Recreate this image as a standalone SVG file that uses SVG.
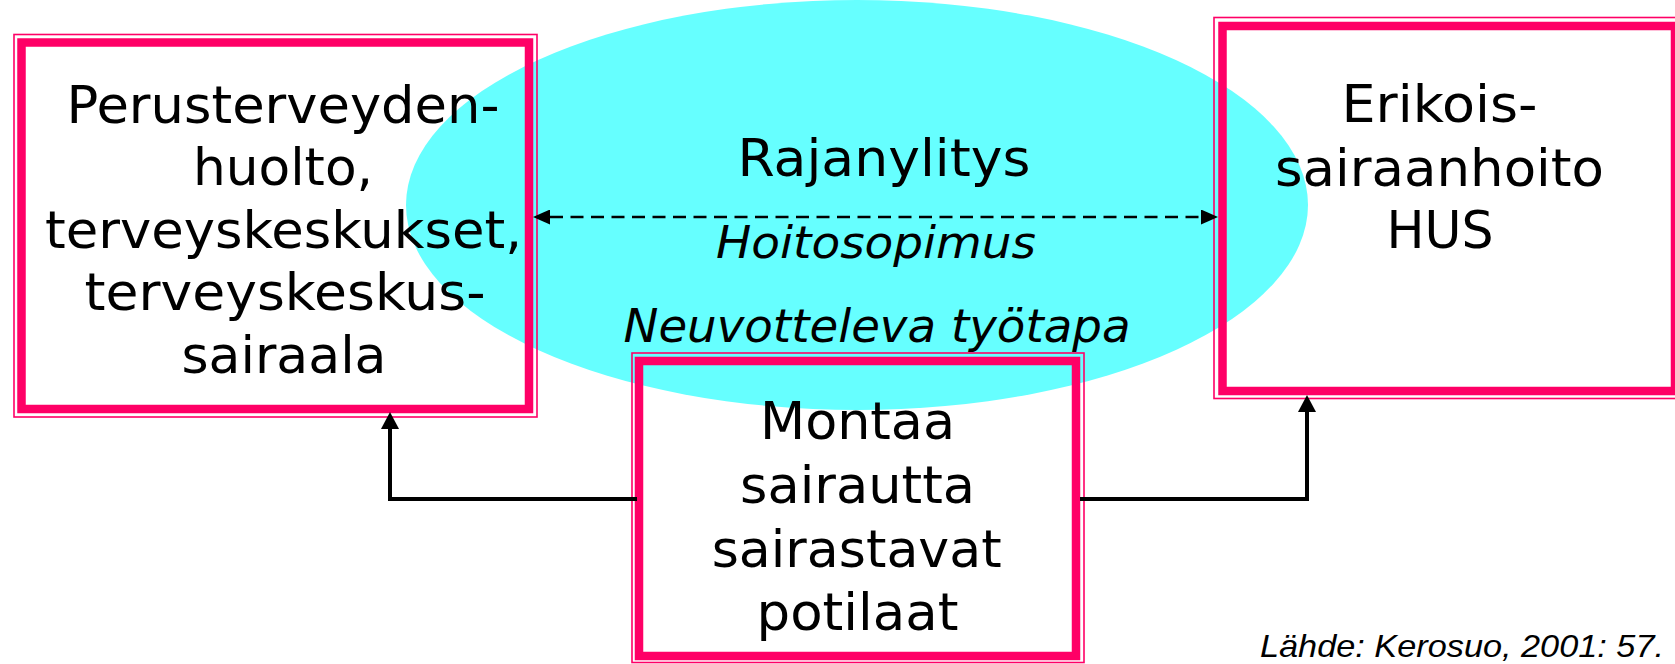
<svg xmlns="http://www.w3.org/2000/svg" width="1675" height="664" viewBox="0 0 1675 664">
<style>
.thin{fill:none;stroke:#ff0066;stroke-width:1.6}
.thick{fill:none;stroke:#ff0066;stroke-width:8.5}
.t{font-family:"DejaVu Sans","Liberation Sans",sans-serif;font-size:52px;fill:#000;text-anchor:middle}
.i{font-family:"DejaVu Sans","Liberation Sans",sans-serif;font-style:italic;fill:#000;text-anchor:middle}
.src{font-family:"Liberation Sans",Arial,sans-serif;font-style:italic;font-size:32px;fill:#000}
.conn{fill:none;stroke:#000;stroke-width:4}
.dash{fill:none;stroke:#000;stroke-width:2.5;stroke-dasharray:13 7.5}
</style>
<defs>
<marker id="arr" markerUnits="userSpaceOnUse" markerWidth="17" markerHeight="18" refX="0" refY="9" orient="auto" viewBox="0 0 17 18">
<path d="M0,0 L17,9 L0,18 z" fill="#000"/>
</marker>
<marker id="darr" markerUnits="userSpaceOnUse" markerWidth="17" markerHeight="15" refX="0" refY="7.5" orient="auto-start-reverse" viewBox="0 0 17 15">
<path d="M0,0 L17,7.5 L0,15 z" fill="#000"/>
</marker>
</defs>
<ellipse id="ellipse" cx="857" cy="205" rx="451" ry="205" fill="#66ffff"/>
<g id="node-perus">
<rect class="thin" x="14" y="34.5" width="523" height="382.5"/>
<rect class="thick" x="21.5" y="42.5" width="507.5" height="366.5"/>
<text class="t" x="283" y="122.7" textLength="433" lengthAdjust="spacingAndGlyphs">Perusterveyden-</text>
<text class="t" x="283" y="185.2" textLength="180" lengthAdjust="spacingAndGlyphs">huolto,</text>
<text class="t" x="283.5" y="247.7" textLength="477" lengthAdjust="spacingAndGlyphs">terveyskeskukset,</text>
<text class="t" x="285" y="310.2" textLength="401" lengthAdjust="spacingAndGlyphs">terveyskeskus-</text>
<text class="t" x="284" y="372.7" textLength="205" lengthAdjust="spacingAndGlyphs">sairaala</text>
</g>
<g id="node-erikois">
<rect class="thin" x="1214" y="17.5" width="470" height="381"/>
<rect class="thick" x="1222.5" y="26" width="452.5" height="365"/>
<text class="t" x="1439.5" y="122.3" textLength="196" lengthAdjust="spacingAndGlyphs">Erikois-</text>
<text class="t" x="1439.5" y="186" textLength="329" lengthAdjust="spacingAndGlyphs">sairaanhoito</text>
<text class="t" x="1440" y="248.3" textLength="107" lengthAdjust="spacingAndGlyphs">HUS</text>
</g>
<g id="node-rajanylitys">
<text class="t" x="884" y="175.7" textLength="293" lengthAdjust="spacingAndGlyphs">Rajanylitys</text>
<text class="i" x="876" y="258" font-size="44" textLength="320" lengthAdjust="spacingAndGlyphs">Hoitosopimus</text>
<text class="i" x="877" y="341.7" font-size="46" textLength="507" lengthAdjust="spacingAndGlyphs">Neuvotteleva työtapa</text>
</g>
<g id="node-montaa">
<rect class="thin" x="632" y="353" width="452" height="309.5"/>
<rect class="thick" x="639" y="361" width="437" height="295"/>
<text class="t" x="857.5" y="439.3" textLength="195" lengthAdjust="spacingAndGlyphs">Montaa</text>
<text class="t" x="857.5" y="503" textLength="235" lengthAdjust="spacingAndGlyphs">sairautta</text>
<text class="t" x="856.7" y="566.7" textLength="290" lengthAdjust="spacingAndGlyphs">sairastavat</text>
<text class="t" x="857.5" y="630" textLength="202" lengthAdjust="spacingAndGlyphs">potilaat</text>
</g>
<g id="connectors">
<path class="dash" d="M550,217 H1201" marker-start="url(#darr)" marker-end="url(#darr)"/>
<path class="conn" d="M637,499 H390 V429" marker-end="url(#arr)"/>
<path class="conn" d="M1080,499 H1307 V412" marker-end="url(#arr)"/>
</g>
<text class="src" x="1260" y="657" textLength="404" lengthAdjust="spacingAndGlyphs">Lähde: Kerosuo, 2001: 57.</text>
</svg>
